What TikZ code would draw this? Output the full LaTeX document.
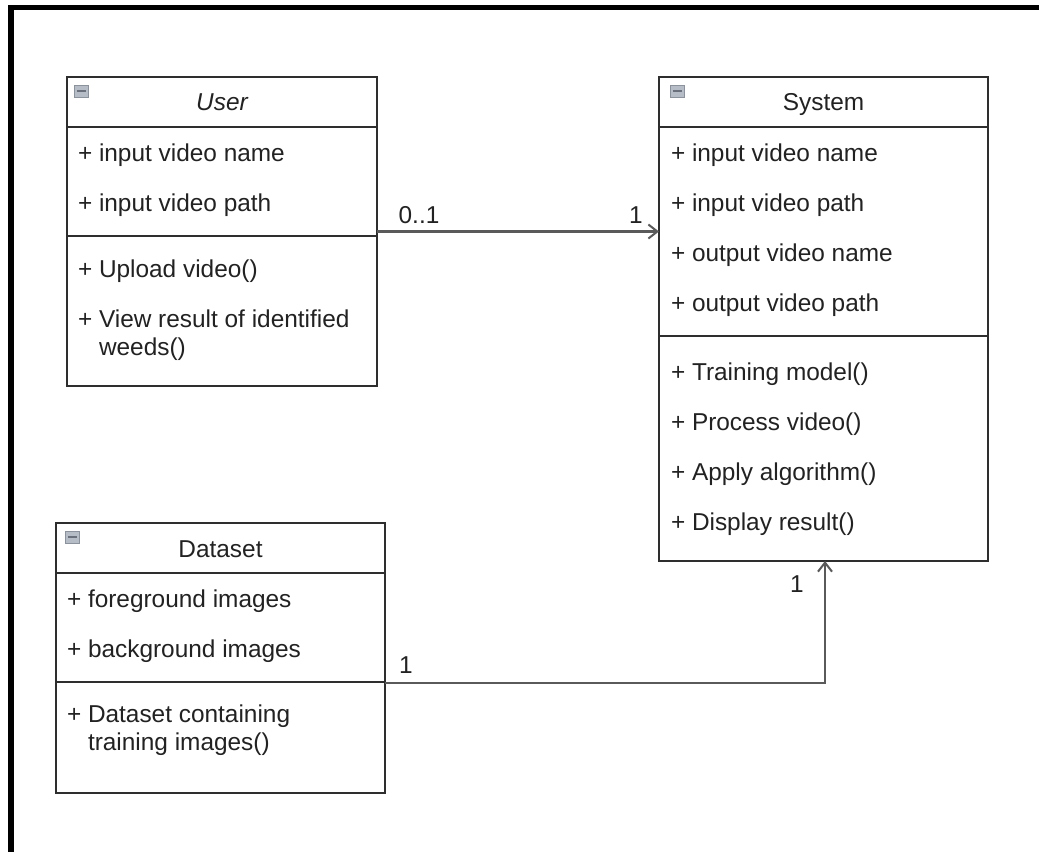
\documentclass[tikz,border=0pt]{standalone}
\usepackage{fontspec}
\setmainfont{Liberation Sans}
\usetikzlibrary{arrows.meta}
\definecolor{boxline}{HTML}{2E2E2E}
\definecolor{wireline}{HTML}{5A5A5A}
\definecolor{inktext}{HTML}{222222}
\definecolor{iconfill}{HTML}{B7BDC7}
\definecolor{iconedge}{HTML}{8C929C}
\definecolor{iconbar}{HTML}{6A707C}
\newcommand{\umlfont}{\fontsize{24.4}{29}\selectfont}
\tikzset{
  classbox/.style={draw=boxline, line width=2.5pt, fill=white, anchor=north west,
    inner sep=0pt, outer sep=0pt},
  compartment/.style={draw=boxline, line width=2.5pt},
  member/.style={anchor=base west, inner sep=0pt, outer sep=0pt, font=\umlfont, text=inktext},
  classname/.style={anchor=base, inner sep=0pt, outer sep=0pt, font=\umlfont, text=inktext},
  mult/.style={anchor=base, inner sep=0pt, outer sep=0pt, font=\umlfont, text=inktext},
  assoc/.style={draw=wireline, line width=2.5pt,
    -{Straight Barb[length=9pt,width=14pt,line width=2pt]}},
  collapser/.style={draw=iconedge, line width=1pt, fill=iconfill, minimum width=14pt,
    minimum height=12pt, inner sep=0pt,
    path picture={\fill[iconbar] ([xshift=2.5pt,yshift=-1.3pt]path picture bounding box.west)
      rectangle ([xshift=-2.5pt,yshift=1.3pt]path picture bounding box.east);}}
}
\begin{document}
\begin{tikzpicture}[x=1pt, y=-1pt]
  \useasboundingbox (0,0) rectangle (1039,852);
  \fill[white] (0,0) rectangle (1039,852);

  % page frame (top and left edges)
  \fill[black] (8,5) rectangle (1039,10);
  \fill[black] (8,5) rectangle (14,852);

  % ---------- class User ----------
  \node[classbox, minimum width=310pt, minimum height=309pt] (user) at (67,77) {};
  \draw[compartment] (67,127) -- (377,127);
  \draw[compartment] (67,236) -- (377,236);
  \node[collapser] (usericon) at (81,91) {};
  \node[classname, font=\umlfont\itshape] (usertitle) at (222,110) {User};
  \node[member] (ua1) at (78,161.5) {+ input video name};
  \node[member] (ua2) at (78,211.5) {+ input video path};
  \node[member] (um1) at (78,277) {+ Upload video()};
  \node[member] (um2) at (78,327) {+ View result of identified};
  \node[member] (um2b) at (99,355) {weeds()};

  % ---------- class System ----------
  \node[classbox, minimum width=329pt, minimum height=484pt] (system) at (659,77) {};
  \draw[compartment] (659,127) -- (988,127);
  \draw[compartment] (659,336) -- (988,336);
  \node[collapser] (systemicon) at (677,91) {};
  \node[classname] (systemtitle) at (823.5,110) {System};
  \node[member] (sa1) at (671,161.5) {+ input video name};
  \node[member] (sa2) at (671,211.5) {+ input video path};
  \node[member] (sa3) at (671,261.5) {+ output video name};
  \node[member] (sa4) at (671,311.5) {+ output video path};
  \node[member] (sm1) at (671,380) {+ Training model()};
  \node[member] (sm2) at (671,430) {+ Process video()};
  \node[member] (sm3) at (671,480) {+ Apply algorithm()};
  \node[member] (sm4) at (671,530) {+ Display result()};

  % ---------- class Dataset ----------
  \node[classbox, minimum width=329pt, minimum height=270pt] (dataset) at (56,523) {};
  \draw[compartment] (56,573) -- (385,573);
  \draw[compartment] (56,682) -- (385,682);
  \node[collapser] (dataseticon) at (72,537) {};
  \node[classname] (datasettitle) at (220.5,557) {Dataset};
  \node[member] (da1) at (67,607) {+ foreground images};
  \node[member] (da2) at (67,657) {+ background images};
  \node[member] (dm1) at (67,722) {+ Dataset containing};
  \node[member] (dm1b) at (88,750) {training images()};

  % ---------- associations ----------
  \draw[assoc] (user.east) -- (user.east -| system.west);
  \node[mult] (m01) at (419,223) {0..1};
  \node[mult] (m1a) at (636,223) {1};

  \coordinate (dsout) at ([yshift=-25pt]dataset.east);
  \coordinate (sysin) at ([xshift=1.5pt]system.south);
  \draw[assoc] (dsout) -| (sysin);
  \node[mult] (m1b) at (406,673) {1};
  \node[mult] (m1c) at (797,592) {1};
\end{tikzpicture}
\end{document}
